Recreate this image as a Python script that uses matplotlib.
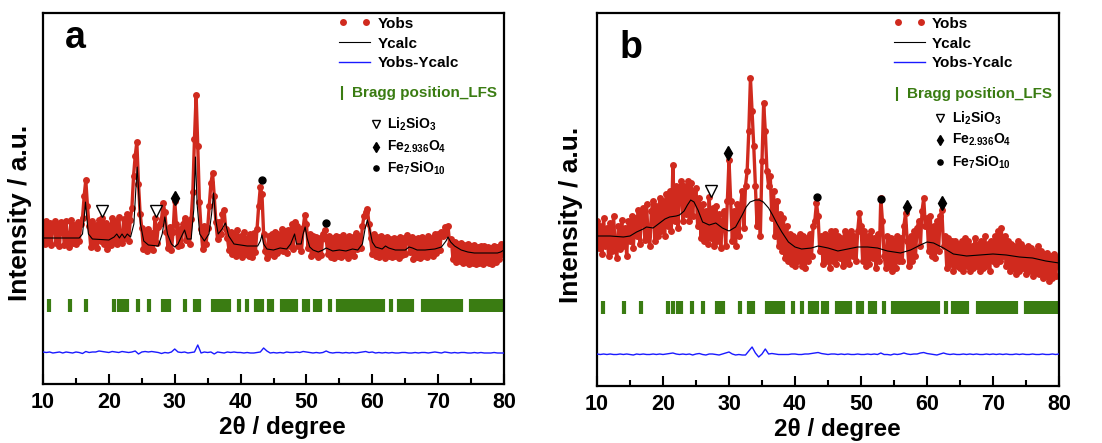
import matplotlib.pyplot as plt
import numpy as np
from matplotlib.lines import Line2D
from matplotlib.legend_handler import HandlerLine2D

plt.rcParams['font.family'] = ['Liberation Sans', 'DejaVu Sans']
plt.rcParams['font.weight'] = 'bold'
plt.rcParams['mathtext.fontset'] = 'custom'
plt.rcParams['mathtext.rm'] = 'Liberation Sans:bold'
plt.rcParams['mathtext.it'] = 'Liberation Sans:bold'
plt.rcParams['mathtext.bf'] = 'Liberation Sans:bold'
plt.rcParams['mathtext.default'] = 'rm'

RED = '#d02a1e'
GREEN = '#3a7c12'
BLUE = '#1a1aff'

# ---- panel a : observed pattern, 0.25 deg step from 10 to 80 (arbitrary units)
obs_a = [
    160, 140, 163, 142,  161, 139, 158, 163,  141, 160, 138, 162,  157, 139, 163, 144,
    137, 164, 141, 159,  140, 162, 143, 160,  166, 188, 204, 178,  158, 137, 163, 141,
    159, 136, 164, 143,  166, 140, 161, 135,  158, 139, 166, 143,  163, 140, 167, 145,
    141, 165, 146, 170,  143, 164, 176, 208,  228, 242, 200, 170,  156, 135, 152, 133,
    155, 136, 151, 134,  166, 141, 157, 160,  165, 181, 172, 152,  136, 157, 134, 152,
    183, 160, 138, 155,  139, 160, 166, 144,  162, 140, 165, 192,  245, 289, 238, 182,
    155, 135, 158, 140,  156, 178, 201, 211,  188, 162, 145, 162,  150, 170, 174, 155,
    146, 134, 152, 130,  150, 128, 154, 132,  148, 127, 152, 130,  146, 128, 150, 127,
    151, 132, 155, 178,  197, 190, 150, 133,  126, 148, 130, 150,  128, 152, 131, 150,
    134, 155, 133, 153,  131, 154, 138, 160,  135, 162, 158, 138,  154, 133, 156, 169,
    160, 136, 150, 128,  148, 130, 147, 127,  146, 129, 150, 154,  145, 130, 148, 127,
    146, 126, 148, 128,  147, 127, 149, 129,  145, 126, 148, 130,  147, 128, 151, 135,
    148, 136, 158, 168,  172, 175, 160, 146,  130, 150, 128, 147,  127, 148, 129, 146,
    126, 147, 128, 145,  127, 146, 128, 145,  126, 147, 129, 146,  130, 149, 146, 132,
    147, 125, 145, 127,  146, 126, 147, 128,  145, 127, 148, 130,  146, 128, 150, 131,
    150, 134, 152, 148,  157, 150, 158, 140,  145, 125, 142, 122,  140, 123, 141, 121,
    139, 122, 140, 120,  138, 121, 139, 120,  137, 121, 138, 120,  138, 122, 137, 121,
    136, 120, 138, 122,  137, 125, 140, 130,  140,
]
calc_a_x = [10, 15.5, 16.0, 16.3, 16.45, 16.6, 16.9, 17.5, 20, 20.8, 21.2, 21.6, 22.0, 22.4, 22.8,
            23.3, 23.8, 24.1, 24.3, 24.5, 24.8, 25.3, 26, 27.5, 28.1, 28.5, 28.9, 29.5, 30.0,
            30.5, 31.2, 31.5, 31.9, 32.5, 32.9, 33.15, 33.4, 33.8, 34.5, 35.2, 35.6, 35.9, 36.2,
            36.6, 37.2, 37.7, 38.2, 39, 41, 42.6, 43.0, 43.25, 43.5, 44, 45, 46, 47, 47.6, 48.2,
            48.5, 49.2, 49.5, 49.8, 50.1, 50.5, 51, 51.8, 52.5, 53, 54, 55, 56, 57, 57.8, 58.5,
            58.9, 59.25, 59.6, 60, 60.5, 61.5, 62.0, 62.5, 63.5, 65, 65.6, 66.1, 66.8, 68, 69.5,
            70.5, 71.2, 71.5, 71.9, 72.5, 73.5, 74.5, 75.5, 78, 79, 79.5, 80]
calc_a_y = [146, 146, 150, 170, 182, 170, 150, 145, 144, 147, 150, 146, 150, 146, 150,
            147, 160, 195, 217, 195, 160, 143, 139, 138, 150, 167, 150, 140, 137,
            140, 150, 154, 145, 145, 175, 227, 180, 150, 143, 150, 170, 191, 165,
            150, 155, 161, 148, 140, 138, 138, 143, 149, 140, 135, 134, 136, 135, 140, 150,
            140, 140, 150, 157, 146, 137, 134, 132, 134, 136, 133, 134, 133, 135, 134, 140,
            155, 164, 155, 142, 137, 135, 138, 136, 134, 134, 137, 136, 134, 134, 135,
            137, 143, 147, 142, 138, 134, 132, 131, 131, 131, 132, 134]
# difference curve, 0.5 deg step
diff_a = [
    32, 31.5, 32, 31, 31.5, 32, 31, 32, 31.5, 31, 32, 31.5, 30.5, 32.5, 31.5, 32, 32, 33,
    32.5, 32, 31.5, 32.5, 32, 31.5, 32.5, 32, 31.5, 32, 33, 30, 32, 32.5, 32, 32.5, 32, 31.5,
    30.5, 31.5, 31, 32, 35, 32, 31.5, 32, 31, 31.5, 32, 39, 31, 32, 31.5, 32, 30, 32,
    31.5, 31, 32, 31.5, 32, 31.5, 31.5, 31, 31.5, 31, 31, 31.5, 32, 36, 33, 31, 31.5, 31,
    31.5, 31, 32, 31.5, 31.5, 32, 31.5, 32.5, 32, 31.5, 31, 31.5, 31, 31.5, 33, 31.5, 31, 31.5,
    31.5, 31, 31.5, 31, 31.5, 31, 31.5, 32, 32.5, 31.5, 32, 31, 31.5, 31, 31.5, 31, 31.5, 31,
    31, 31.5, 31.5, 31, 31, 31.5, 31, 31.5, 31.5, 31, 31.5, 32, 31.5, 31, 32, 31.5, 31, 31.5,
    31, 31.5, 31.5, 31, 31, 31.5, 31, 31.5, 31, 31, 31, 31.5, 31, 31, 31,
]
marks_a = [('tri', 19.0, 173), ('tri', 27.2, 173), ('dia', 30.0, 186),
           ('dot', 43.2, 204), ('dot', 53.0, 161)]

# ---- panel b
obs_b = [
    165, 138, 160, 132,  168, 140, 158, 130,  163, 135, 170, 142,  128, 160, 137, 166,
    140, 158, 130, 165,  145, 170, 138, 168,  150, 176, 142, 172,  178, 146, 182, 150,
    140, 175, 185, 145,  180, 150, 188, 155,  185, 150, 192, 160,  195, 155, 221, 165,
    200, 158, 195, 205,  165, 200, 172, 205,  165, 203, 170, 195,  198, 160, 188, 148,
    182, 145, 175, 142,  189, 148, 178, 140,  180, 145, 172, 138,  165, 175, 140, 185,
    226, 185, 145, 175,  140, 182, 150, 180,  195, 158, 200, 215,  255, 308, 275, 240,
    200, 160, 185, 150,  225, 283, 255, 215,  200, 210, 168, 195,  150, 185, 140, 172,
    135, 168, 128, 160,  125, 152, 122, 150,  120, 148, 125, 152,  120, 150, 118, 148,
    125, 152, 130, 160,  165, 183, 170, 135,  150, 122, 152, 125,  150, 118, 155, 125,
    155, 122, 150, 128,  148, 120, 155, 125,  152, 122, 155, 130,  150, 125, 155, 173,
    160, 125, 155, 120,  150, 122, 155, 128,  148, 118, 152, 125,  188, 165, 130, 118,
    150, 120, 148, 115,  145, 118, 150, 125,  148, 125, 160, 173,  145, 120, 150, 125,
    155, 130, 158, 165,  140, 175, 188, 160,  168, 135, 170, 130,  160, 128, 165, 135,
    170, 176, 140, 150,  118, 148, 122, 145,  115, 145, 120, 142,  118, 145, 115, 148,
    120, 145, 115, 140,  118, 148, 120, 142,  115, 145, 118, 150,  120, 142, 115, 145,
    125, 150, 122, 155,  125, 158, 130, 150,  120, 145, 115, 142,  118, 140, 112, 145,
    115, 142, 118, 138,  112, 140, 115, 138,  110, 135, 114, 140,  112, 135, 108, 132,
    110, 133, 105, 130,  108, 132, 110, 128,  120,
]
calc_b_x = [10, 12, 14, 15, 16, 17, 17.5, 18.5, 19.5, 20.3, 21, 22, 22.5, 23.2, 23.7, 24.2, 24.7,
            25.3, 26, 27, 28, 29, 30, 31, 32, 32.6, 33.2, 34, 34.6, 35.2, 36, 36.6, 37.3, 38,
            39, 40, 41, 42.5, 43.5, 45, 46.5, 48, 49.5, 51, 52.5, 54, 56, 57.5, 59, 60, 61,
            62.5, 64, 66, 68, 70, 72, 74, 76, 78, 80]
calc_b_y = [150, 150, 149, 150, 154, 157, 159, 158, 163, 167, 169, 170, 171, 175, 181, 186, 184,
            176, 164, 161, 163, 158, 155, 159, 171, 179, 184, 186, 186, 184, 178, 171, 162, 154,
            144, 139, 137, 138, 140, 138, 135, 137, 139, 139, 138, 135, 133, 136, 141, 144, 143,
            138, 132, 130, 131, 132, 131, 129, 128, 125, 123]
diff_b = [
    32, 31.5, 32, 31.5, 32, 31.5, 31.5, 32, 31.5, 32, 31.5, 31, 32, 31.5, 32, 31.5, 31.5, 32,
    31.5, 32, 31.5, 32, 32.5, 33, 32, 31.5, 32, 31.5, 32, 31, 32, 32.5, 31.5, 31, 32, 32,
    31.5, 31, 32, 33, 34, 32, 31, 31.5, 31, 31, 35, 39, 33, 29, 32, 37, 32, 32.5,
    32, 31.5, 31.5, 31.5, 31.5, 32, 32, 31.5, 31.5, 32, 32, 32.5, 33, 33.5, 32.5, 32, 31.5, 32,
    32, 31.5, 32, 31.5, 32, 31.5, 31.5, 32, 31.5, 31.5, 32, 31.5, 32, 31.5, 33, 31.5, 31.5, 31,
    32, 31.5, 32, 33, 32, 31.5, 32, 32, 33, 33.5, 32.5, 32, 31.5, 31, 32, 33, 32, 31.5,
    32, 31.5, 31.5, 32, 31.5, 32, 31.5, 32, 31.5, 31.5, 32, 31.5, 32, 31.5, 32, 31.5, 32, 31.5,
    31.5, 32, 31.5, 32, 31.5, 31.5, 32, 31.5, 31.5, 32, 31.5, 31.5, 32, 31.5, 32,
]
marks_b = [('tri', 27.2, 195), ('dia', 29.9, 233), ('dot', 43.3, 189),
           ('dot', 53.1, 187), ('dia', 56.9, 179), ('dia', 62.3, 183)]

# Bragg reflections of LFS (same for both panels)
bragg_pos = [10.9, 14.15, 16.6, 20.8, 21.5, 22.2, 22.7, 24.35, 26.1, 28.2, 28.7, 29.1, 31.6,
             33.1, 33.7, 35.8, 36.4, 36.9, 37.4, 37.9, 38.2, 39.7, 41.05, 42.3, 42.9, 43.3,
             44.3, 44.8, 46.3, 46.8, 47.3, 47.8, 48.4, 49.6, 50.2, 51.3, 51.8, 52.1, 53.55,
             54.8, 55.3, 55.7, 56.2, 56.7, 57.2, 57.7, 58.2, 58.7, 59.2, 59.7, 60.2, 60.7,
             61.2, 61.7, 62.85, 64.0, 64.6, 65.2, 65.7, 66.1, 67.7, 68.3, 68.9, 69.5, 70.1,
             70.7, 71.3, 71.9, 72.5, 73.1, 73.5, 75.0, 75.6, 76.2, 76.8, 77.4, 78.0, 78.6,
             79.2, 79.7]

phase_names = [r'Li$_2$SiO$_3$', r'Fe$_{2.936}$O$_4$', r'Fe$_7$SiO$_{10}$']
mark_style = {'tri': dict(marker='v', ms=8, mfc='white', mec='black', mew=1.0),
              'dia': dict(marker='d', ms=7, mfc='black', mec='black'),
              'dot': dict(marker='o', ms=5, mfc='black', mec='black')}


def panel(ax, obs, cx, cy, diff, marks, letter, letter_y, ytop, leg, ylab_x):
    x_obs = 10 + 0.25 * np.arange(len(obs))
    x_diff = 10 + 0.5 * np.arange(len(diff))
    ax.plot(x_obs, obs, color=RED, lw=2.4, marker='o', ms=5, mew=0, zorder=2)
    ax.plot(cx, cy, color='black', lw=0.8, zorder=3)
    ax.plot(x_diff, diff, color=BLUE, lw=1.0, zorder=3)
    ax.vlines(bragg_pos, 72, 85, color=GREEN, lw=3.0, zorder=2)
    for kind, x, y in marks:
        ax.plot(x, y, ls='none', zorder=4, **mark_style[kind])

    ax.set_xlim(10, 80)
    ax.set_ylim(0, ytop)
    ax.set_xticks(range(10, 81, 10))
    ax.set_xticks(range(15, 80, 10), minor=True)
    ax.set_yticks([])
    ax.tick_params(axis='x', which='both', direction='in', width=1.5, labelsize=15.5, pad=6)
    ax.tick_params(axis='x', which='major', length=7)
    ax.tick_params(axis='x', which='minor', length=4)
    for s in ax.spines.values():
        s.set_linewidth(1.6)
    ax.set_xlabel('2θ / degree', fontsize=17.5, fontweight='bold')
    ax.xaxis.set_label_coords(0.52, -0.086)
    ax.set_ylabel('Intensity / a.u.', fontsize=19, fontweight='bold')
    ax.yaxis.set_label_coords(ylab_x, 0.46)
    ax.text(0.048, letter_y, letter, transform=ax.transAxes, fontsize=27, fontweight='bold')

    h_obs = Line2D([], [], ls='none', marker='o', ms=5, color=RED, mew=0)
    handles = [h_obs,
               Line2D([], [], color='black', lw=0.8),
               Line2D([], [], color=BLUE, lw=1.0)]
    ax.legend(handles, ['Yobs', 'Ycalc', 'Yobs-Ycalc'], loc='upper left',
              bbox_to_anchor=(0.633, 0.99), frameon=False, numpoints=2, fontsize=11,
              handlelength=2.6, handletextpad=0.2, labelspacing=0.38,
              borderpad=0, borderaxespad=0,
              handler_map={h_obs: HandlerLine2D(numpoints=2, marker_pad=0.55)})
    ax.plot(55.4, leg[0], ls='none', marker='|', ms=10, mew=1.5, color=GREEN)
    ax.text(56.9, leg[0], 'Bragg position_LFS', color=GREEN, fontsize=11,
            fontweight='bold', va='center')
    for (kind, nm), y in zip(zip(['tri', 'dia', 'dot'], phase_names), leg[1:]):
        st = dict(mark_style[kind])
        st['ms'] = st['ms'] * 0.75
        ax.plot(leg[4], y, ls='none', **st)
        ax.text(leg[5], y, nm, fontsize=10, fontweight='bold', va='center')


fig = plt.figure(figsize=(11.02, 4.43), dpi=100)
ax_a = fig.add_axes([43 / 1102, 1 - 384 / 443, 461 / 1102, 371 / 443])
ax_b = fig.add_axes([597 / 1102, 1 - 386 / 443, 462 / 1102, 373 / 443])

panel(ax_a, obs_a, calc_a_x, calc_a_y, diff_a, marks_a, 'a', 0.906, 371,
      (291, 260, 237, 216, 60.56, 62.2), -0.024)
panel(ax_b, obs_b, calc_b_x, calc_b_y, diff_b, marks_b, 'b', 0.879, 373,
      (292, 268, 246, 224, 61.97, 63.8), -0.030)

fig.savefig('out.png', dpi=100)
